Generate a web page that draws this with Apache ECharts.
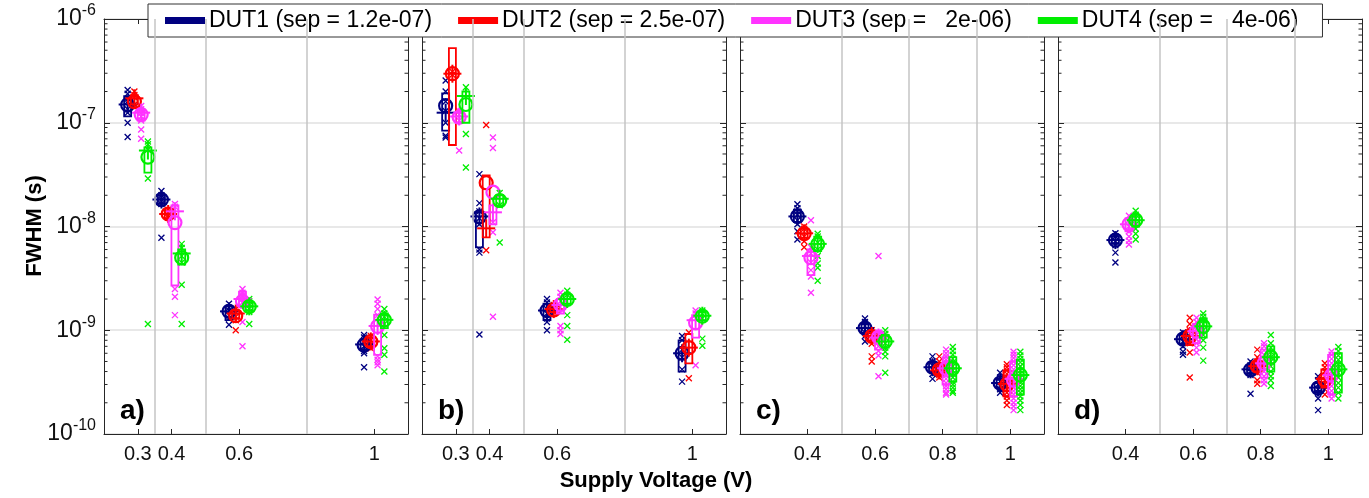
<!DOCTYPE html>
<html>
<head>
<meta charset="utf-8">
<script src="https://cdn.jsdelivr.net/npm/echarts@6/dist/echarts.min.js"></script>
<style>
html,body{margin:0;padding:0;background:#fff;}
#chart{width:1369px;height:498px;}
</style>
</head>
<body>
<div id="chart"></div>
<script>
// ---------------- DATA ----------------
const dutNames = ['DUT1 (sep = 1.2e-07)', 'DUT2 (sep = 2.5e-07)', 'DUT3 (sep =   2e-06)', 'DUT4 (sep =   4e-06)'];
const panelLabels = ['a)', 'b)', 'c)', 'd)'];
const minorTickValues = [2e-10,3e-10,4e-10,5e-10,6e-10,7e-10,8e-10,9e-10,
  2e-9,3e-9,4e-9,5e-9,6e-9,7e-9,8e-9,9e-9,
  2e-8,3e-8,4e-8,5e-8,6e-8,7e-8,8e-8,9e-8,
  2e-7,3e-7,4e-7,5e-7,6e-7,7e-7,8e-7,9e-7];
const xTicksAB = [0.3, 0.4, 0.6, 1];
const xTicksCD = [0.4, 0.6, 0.8, 1];
const separatorsAB = [0.35, 0.5, 0.8];
const separatorsCD = [0.5, 0.7, 0.9];

// Panel a)
const panelA_voltages = [0.3, 0.4, 0.6, 1.0];
const panelA_mean = [
  [1.49e-7, 1.82e-8, 1.52e-9, 7.2e-10],
  [1.6e-7, 1.32e-8, 1.38e-9, 7.76e-10],
  [1.2e-7, 1.09e-8, 1.9e-9, 1.09e-9],
  [4.67e-8, 5.0e-9, 1.69e-9, 1.26e-9]];
const panelA_center = [
  [1.5e-7, 1.82e-8, 1.52e-9, 7.3e-10],
  [1.72e-7, 1.32e-8, 1.45e-9, 7.8e-10],
  [1.25e-7, 1.4e-8, 2.0e-9, 1.1e-9],
  [5.4e-8, 5.5e-9, 1.7e-9, 1.26e-9]];
const panelA_boxLow = [
  [1.15e-7, 1.65e-8, 1.25e-9, 6.5e-10],
  [1.5e-7, 1.2e-8, 1.3e-9, 7.0e-10],
  [1.05e-7, 2.7e-9, 1.7e-9, 5.8e-10],
  [3.3e-8, 4.3e-9, 1.55e-9, 1.05e-9]];
const panelA_boxHigh = [
  [1.8e-7, 2.0e-8, 1.7e-9, 8.2e-10],
  [1.85e-7, 1.42e-8, 1.55e-9, 8.5e-10],
  [1.35e-7, 1.6e-8, 2.35e-9, 1.41e-9],
  [5.8e-8, 6.0e-9, 1.85e-9, 1.45e-9]];
const panelA_points = [
  [[2.07e-7,1.9e-7,1.7e-7,1.6e-7,1.35e-7,1.25e-7,1.0e-7,7.3e-8],[2.2e-8,2.0e-8,1.9e-8,1.75e-8,1.65e-8,7.8e-9],[1.8e-9,1.65e-9,1.55e-9,1.4e-9,1.3e-9,1.13e-9],[9e-10,8.5e-10,7.8e-10,7e-10,6.3e-10,6e-10,4.4e-10]],
  [[2.0e-7,1.85e-7,1.75e-7,1.5e-7,1.42e-7],[1.45e-8,1.38e-8,1.28e-8,1.22e-8],[1.6e-9,1.5e-9,1.35e-9,1.25e-9,1.0e-9],[8.8e-10,8e-10,7.2e-10,6.7e-10]],
  [[1.45e-7,1.35e-7,1.25e-7,1.15e-7,1.05e-7,8.6e-8,7e-8],[1.65e-8,1.55e-8,2.5e-9,2.1e-9,1.4e-9],[2.5e-9,2.3e-9,2.15e-9,2.0e-9,1.85e-9,1.2e-9,7e-10],[1.98e-9,1.8e-9,1.6e-9,1.4e-9,5.6e-10,5.2e-10,4.9e-10,4.6e-10]],
  [[6.6e-8,6.2e-8,5.5e-8,2.9e-8,1.15e-9],[6.8e-9,6.2e-9,5.2e-9,4.5e-9,2.75e-9,1.15e-9],[2.0e-9,1.9e-9,1.8e-9,1.6e-9,1.5e-9,1.15e-9],[1.6e-9,1.45e-9,1.35e-9,1.15e-9,9e-10,6.7e-10,5.8e-10,4e-10]]];

// Panel b)
const panelB_voltages = [0.3, 0.4, 0.6, 1.0];
const panelB_mean = [
  [1.46e-7, 1.24e-8, 1.55e-9, 6.0e-10],
  [2.97e-7, 2.64e-8, 1.57e-9, 6.8e-10],
  [1.13e-7, 2.14e-8, 1.77e-9, 1.18e-9],
  [1.5e-7, 1.78e-8, 1.98e-9, 1.37e-9]];
const panelB_center = [
  [1.25e-7, 1.25e-8, 1.55e-9, 6.0e-10],
  [2.97e-7, 9.6e-9, 1.6e-9, 6.8e-10],
  [1.15e-7, 1.37e-8, 1.75e-9, 1.25e-9],
  [1.81e-7, 1.85e-8, 2.0e-9, 1.38e-9]];
const panelB_boxLow = [
  [8.4e-8, 6.3e-9, 1.25e-9, 4.0e-10],
  [6.1e-8, 7.85e-9, 1.5e-9, 4.8e-10],
  [1.0e-7, 1.05e-8, 1.45e-9, 8.5e-10],
  [1.0e-7, 1.6e-8, 1.8e-9, 1.25e-9]];
const panelB_boxHigh = [
  [1.92e-7, 1.37e-8, 1.8e-9, 8.0e-10],
  [5.25e-7, 3.1e-8, 1.7e-9, 9.2e-10],
  [1.25e-7, 1.6e-8, 2.0e-9, 1.4e-9],
  [2.0e-7, 2.0e-8, 2.2e-9, 1.5e-9]];
const panelB_points = [
  [[2.55e-7,2.0e-7,1.6e-7,1.3e-7,1.0e-7,7.5e-8,7.2e-8],[3.2e-8,1.68e-8,1.4e-8,1.2e-8,1.05e-8,6e-9,5.6e-9,9.1e-10],[2.0e-9,1.85e-9,1.6e-9,1.45e-9,1.3e-9,1.2e-9,1.0e-9],[8.8e-10,8e-10,6.5e-10,5.5e-10,4.2e-10,3.2e-10]],
  [[3.1e-7,2.9e-7],[9.5e-8,5.9e-9],[1.75e-9,1.6e-9,1.5e-9],[9.5e-10,3.45e-10]],
  [[1.3e-7,1.2e-7,1.05e-7,5.4e-8],[7.2e-8,5.7e-8,1.1e-8,8.8e-9,1.35e-9],[2.3e-9,2.1e-9,1.9e-9,1.1e-9,1.0e-9,9.2e-10],[1.55e-9,1.45e-9,4.6e-10]],
  [[2.2e-7,7.8e-8,3.7e-8],[2.1e-8,1.6e-8,7e-9],[2.4e-9,2.2e-9,1.4e-9,1.1e-9,8.1e-10],[1.55e-9,1.45e-9,1.3e-9,8.3e-10,7.1e-10]]];

// Panel c)
const panelC_voltages = [0.4, 0.6, 0.8, 1.0];
const panelC_mean = [
  [1.25e-8, 1.05e-9, 4.4e-10, 3.1e-10],
  [8.55e-9, 8.75e-10, 4.16e-10, 3.0e-10],
  [5.0e-9, 8.6e-10, 4.3e-10, 3.3e-10],
  [6.74e-9, 7.8e-10, 4.3e-10, 3.7e-10]];
const panelC_center = [
  [1.25e-8, 1.05e-9, 4.4e-10, 3.1e-10],
  [8.6e-9, 8.8e-10, 4.1e-10, 3.05e-10],
  [5.2e-9, 8.5e-10, 4.3e-10, 3.4e-10],
  [6.8e-9, 7.8e-10, 4.3e-10, 3.7e-10]];
const panelC_boxLow = [
  [1.1e-8, 9.5e-10, 4.0e-10, 2.8e-10],
  [7.8e-9, 8.0e-10, 3.8e-10, 2.3e-10],
  [3.4e-9, 6.5e-10, 3.0e-10, 2.3e-10],
  [5.8e-9, 6.8e-10, 3.2e-10, 2.4e-10]];
const panelC_boxHigh = [
  [1.45e-8, 1.15e-9, 4.9e-10, 3.4e-10],
  [9.5e-9, 9.5e-10, 4.5e-10, 4.1e-10],
  [6.0e-9, 9.5e-10, 5.5e-10, 5.0e-10],
  [8.0e-9, 9.0e-10, 5.5e-10, 5.2e-10]];
const panelC_points = [
  [[1.64e-8,1.5e-8,1.4e-8,1.3e-8,1.15e-8,1.05e-8,9e-9,7.5e-9],[1.3e-9,1.2e-9,1.1e-9,9.5e-10,8.8e-10,7.8e-10],[5.6e-10,5e-10,4.6e-10,4.2e-10,3.8e-10,3.4e-10],[3.9e-10,3.5e-10,3.2e-10,2.9e-10,2.7e-10,2.5e-10]],
  [[1.0e-8,9.5e-9,8e-9,7.2e-9,6.3e-9],[1.0e-9,9e-10,8.2e-10,7.4e-10,5.6e-10,5e-10],[5.6e-10,5e-10,4.6e-10,4.3e-10,3.9e-10,3.7e-10,3.5e-10],[4.7e-10,4.4e-10,4.1e-10,3.8e-10,3.5e-10,3.3e-10,3.1e-10,2.9e-10,2.7e-10,2.5e-10,2.3e-10,2.1e-10,1.9e-10]],
  [[1.15e-8,6.3e-9,5.5e-9,4.5e-9,3.8e-9,3.3e-9,2.3e-9],[5.2e-9,9.5e-10,8.8e-10,7.8e-10,7e-10,6.3e-10,5.7e-10,3.6e-10],[6.5e-10,6e-10,5.6e-10,5.2e-10,4.9e-10,4.6e-10,4.3e-10,4e-10,3.7e-10,3.4e-10,3.1e-10,2.9e-10,2.7e-10,2.5e-10,2.4e-10],[6.2e-10,5.8e-10,5.4e-10,5e-10,4.6e-10,4.2e-10,3.9e-10,3.6e-10,3.3e-10,3.0e-10,2.8e-10,2.6e-10,2.4e-10,2.2e-10,2.0e-10,1.85e-10,1.7e-10]],
  [[8.5e-9,8e-9,7e-9,6e-9,5.2e-9,4.4e-9,4e-9,3e-9],[1.0e-9,9.2e-10,8.5e-10,7.5e-10,6.8e-10,6.2e-10,5.6e-10,3.9e-10],[6.9e-10,6.3e-10,5.8e-10,5.3e-10,4.9e-10,4.5e-10,4.1e-10,3.8e-10,3.5e-10,3.2e-10,3.0e-10,2.8e-10,2.6e-10,2.5e-10],[6.2e-10,5.7e-10,5.3e-10,4.9e-10,4.5e-10,4.1e-10,3.8e-10,3.5e-10,3.2e-10,2.9e-10,2.7e-10,2.5e-10,2.3e-10,2.1e-10,1.9e-10,1.7e-10]]];

// Panel d)
const panelD_voltages = [0.4, 0.6, 0.8, 1.0];
const panelD_mean = [
  [7.4e-9, 8.2e-10, 4.16e-10, 2.77e-10],
  [null, 8.75e-10, 4.5e-10, 3.33e-10],
  [1.05e-8, 9.8e-10, 4.8e-10, 3.7e-10],
  [1.15e-8, 1.09e-9, 5.5e-10, 4.2e-10]];
const panelD_center = [
  [7.4e-9, 8.2e-10, 4.2e-10, 2.8e-10],
  [null, 8.8e-10, 4.5e-10, 3.4e-10],
  [1.05e-8, 9.8e-10, 4.8e-10, 3.7e-10],
  [1.15e-8, 1.09e-9, 5.5e-10, 4.2e-10]];
const panelD_boxLow = [
  [6.8e-9, 7.4e-10, 3.8e-10, 2.5e-10],
  [null, 7.2e-10, 4.0e-10, 2.8e-10],
  [9.0e-9, 7.5e-10, 3.5e-10, 2.4e-10],
  [1.0e-8, 8.5e-10, 4.0e-10, 2.5e-10]];
const panelD_boxHigh = [
  [8.0e-9, 9.0e-10, 4.6e-10, 3.1e-10],
  [null, 1.0e-9, 5.0e-10, 4.2e-10],
  [1.2e-8, 1.15e-9, 6.5e-10, 5.8e-10],
  [1.3e-8, 1.3e-9, 7.0e-10, 6.0e-10]];
const panelD_points = [
  [[8.6e-9,8e-9,7.2e-9,6.6e-9,5.6e-9,4.5e-9],[9.5e-10,8.8e-10,7.8e-10,7e-10,6.2e-10,5.8e-10],[5e-10,4.6e-10,4.3e-10,4e-10,3.7e-10,2.44e-10],[3.6e-10,3.3e-10,3e-10,2.7e-10,2.5e-10,2.2e-10,1.7e-10]],
  [[],[1.32e-9,1.15e-9,1.0e-9,8.5e-10,7.5e-10,6.1e-10,3.5e-10],[6.5e-10,5.5e-10,5e-10,4.6e-10,4.2e-10,3.9e-10,3.3e-10,3.05e-10],[4.8e-10,4.4e-10,4e-10,3.6e-10,3.3e-10,3e-10,2.7e-10,2.4e-10]],
  [[1.27e-8,1.15e-8,1e-8,9e-9,8e-9,7.3e-9,6.7e-9],[1.32e-9,1.2e-9,1.1e-9,1e-9,9e-10,8.2e-10,7.5e-10,6.8e-10,6.1e-10],[7.5e-10,7e-10,6.4e-10,5.8e-10,5.3e-10,4.8e-10,4.4e-10,4e-10,3.6e-10,3.3e-10,3.05e-10],[6.25e-10,5.8e-10,5.3e-10,4.8e-10,4.4e-10,4e-10,3.6e-10,3.2e-10,2.9e-10,2.6e-10,2.4e-10,2.2e-10]],
  [[1.42e-8,1.3e-8,1.2e-8,1.05e-8,9.5e-9,8.5e-9,7.5e-9],[1.45e-9,1.35e-9,1.25e-9,1.15e-9,1.0e-9,9e-10,8e-10,6.8e-10,5.1e-10],[9e-10,7.5e-10,6.8e-10,6.2e-10,5.5e-10,5e-10,4.5e-10,4e-10,3.6e-10,3.3e-10,2.9e-10],[6.9e-10,6.3e-10,5.7e-10,5.2e-10,4.7e-10,4.3e-10,3.9e-10,3.5e-10,3.1e-10,2.8e-10,2.5e-10,2.2e-10]]];

// ---------------- STYLE / LAYOUT ----------------
const COLORS = ['#000080', '#ff0000', '#ff33ff', '#00ee00'];
const DUT_OFFSET = [-0.03, -0.01, 0.01, 0.03];
const FONT = '"Liberation Sans", Arial, Helvetica, sans-serif';
const AXIS_COLOR = '#262626';
const GRID_LEFTS = [104, 422, 740, 1058];
const GRID_TOP = 19, GRID_W = 304, GRID_H = 415;

const panels = [
  {volts: panelA_voltages, mean: panelA_mean, center: panelA_center, lo: panelA_boxLow, hi: panelA_boxHigh, pts: panelA_points, ticks: xTicksAB, seps: separatorsAB},
  {volts: panelB_voltages, mean: panelB_mean, center: panelB_center, lo: panelB_boxLow, hi: panelB_boxHigh, pts: panelB_points, ticks: xTicksAB, seps: separatorsAB},
  {volts: panelC_voltages, mean: panelC_mean, center: panelC_center, lo: panelC_boxLow, hi: panelC_boxHigh, pts: panelC_points, ticks: xTicksCD, seps: separatorsCD},
  {volts: panelD_voltages, mean: panelD_mean, center: panelD_center, lo: panelD_boxLow, hi: panelD_boxHigh, pts: panelD_points, ticks: xTicksCD, seps: separatorsCD}
];

const grids = [], xAxes = [], yAxes = [], series = [];

panels.forEach((p, gi) => {
  grids.push({left: GRID_LEFTS[gi], top: GRID_TOP, width: GRID_W, height: GRID_H, containLabel: false});
  xAxes.push({
    type: 'value', gridIndex: gi, min: 0.2, max: 1.1, position: 'bottom',
    axisLine: {show: true, onZero: false, lineStyle: {color: AXIS_COLOR, width: 1}},
    axisTick: {show: true, inside: true, length: 5, customValues: p.ticks, lineStyle: {color: AXIS_COLOR}},
    axisLabel: {show: true, customValues: p.ticks, fontSize: 20, color: '#111', fontFamily: FONT, margin: 10,
      formatter: v => String(v)},
    splitLine: {show: false}
  });
  xAxes.push({
    type: 'value', gridIndex: gi, min: 0.2, max: 1.1, position: 'top',
    axisLine: {show: true, onZero: false, lineStyle: {color: AXIS_COLOR, width: 1}},
    axisTick: {show: true, inside: true, length: 5, customValues: p.ticks, lineStyle: {color: AXIS_COLOR}},
    axisLabel: {show: false, customValues: p.ticks},
    splitLine: {show: false}
  });
  yAxes.push({
    type: 'log', logBase: 10, gridIndex: gi, min: 1e-10, max: 1e-6, splitNumber: 4, position: 'left',
    axisLine: {show: true, onZero: false, lineStyle: {color: AXIS_COLOR, width: 1}},
    axisTick: {show: true, inside: true, length: 6, lineStyle: {color: AXIS_COLOR}},
    axisLabel: {show: gi === 0, margin: 8, fontFamily: FONT,
      formatter: v => '{b|10}{s|' + Math.round(Math.log10(v)) + '}',
      rich: {
        b: {fontSize: 23, color: '#111', fontFamily: FONT, lineHeight: 32},
        s: {fontSize: 16, color: '#111', fontFamily: FONT, verticalAlign: 'top', lineHeight: 17}
      }},
    splitLine: {show: true, lineStyle: {color: '#e8e8e8', width: 2}}
  });
  yAxes.push({
    type: 'log', logBase: 10, gridIndex: gi, min: 1e-10, max: 1e-6, splitNumber: 4, position: 'right',
    axisLine: {show: true, onZero: false, lineStyle: {color: AXIS_COLOR, width: 1}},
    axisTick: {show: true, inside: true, length: 6, lineStyle: {color: AXIS_COLOR}},
    axisLabel: {show: false},
    splitLine: {show: false}
  });

  const xi = gi * 2, yi = gi * 2;

  series.push({
    type: 'custom', xAxisIndex: xi, yAxisIndex: yi, silent: true, z: 1,
    data: minorTickValues.map(v => [0.65, v]),
    renderItem: (params, api) => {
      const cs = params.coordSys;
      const y = api.coord([api.value(0), api.value(1)])[1];
      return {type: 'group', children: [
        {type: 'line', shape: {x1: cs.x, y1: y, x2: cs.x + 3.5, y2: y}, style: {stroke: AXIS_COLOR, lineWidth: 1}},
        {type: 'line', shape: {x1: cs.x + cs.width - 3.5, y1: y, x2: cs.x + cs.width, y2: y}, style: {stroke: AXIS_COLOR, lineWidth: 1}}
      ]};
    },
    markLine: {
      silent: true, symbol: 'none', label: {show: false},
      lineStyle: {color: '#c4c4c4', type: 'solid', width: 1.5},
      data: p.seps.map(s => ({xAxis: s}))
    }
  });

  for (let d = 0; d < 4; d++) {
    const color = COLORS[d];
    const ptsData = [];
    const sumData = [];
    p.volts.forEach((v, vi) => {
      const x = v + DUT_OFFSET[d];
      (p.pts[d][vi] || []).forEach(y => ptsData.push([x, y]));
      if (p.mean[d][vi] != null) {
        sumData.push([x, p.lo[d][vi], p.hi[d][vi], p.mean[d][vi], p.center[d][vi]]);
      }
    });
    series.push({
      name: dutNames[d], type: 'scatter', xAxisIndex: xi, yAxisIndex: yi, z: 3,
      symbol: 'path://M0,0L10,10M10,0L0,10', symbolSize: 6,
      itemStyle: {color: 'none', borderColor: color, borderWidth: 1.3, opacity: 1},
      data: ptsData
    });
    series.push({
      name: dutNames[d], type: 'custom', xAxisIndex: xi, yAxisIndex: yi, z: 4,
      itemStyle: {color: color},
      data: sumData,
      renderItem: (params, api) => {
        const x = api.value(0);
        const pLo = api.coord([x, api.value(1)]);
        const pHi = api.coord([x, api.value(2)]);
        const pM = api.coord([x, api.value(3)]);
        const pC = api.coord([x, api.value(4)]);
        return {type: 'group', children: [
          {type: 'rect', shape: {x: pLo[0] - 3.5, y: pHi[1], width: 7, height: pLo[1] - pHi[1]},
            style: {fill: 'none', stroke: color, lineWidth: 1.8}},
          {type: 'line', shape: {x1: pC[0] - 9, y1: pC[1], x2: pC[0] + 9, y2: pC[1]},
            style: {stroke: color, lineWidth: 2}},
          {type: 'line', shape: {x1: pC[0], y1: pC[1] - 9, x2: pC[0], y2: pC[1] + 9},
            style: {stroke: color, lineWidth: 2}},
          {type: 'circle', shape: {cx: pM[0], cy: pM[1], r: 6.5},
            style: {fill: 'none', stroke: color, lineWidth: 2.2}}
        ]};
      }
    });
  }
});

const graphics = [
  {type: 'text', x: 35, y: 226, rotation: Math.PI / 2,
    style: {text: 'FWHM (s)', font: 'bold 22px ' + FONT, fill: '#000', align: 'center', verticalAlign: 'middle'}},
  {type: 'text', x: 656, y: 481,
    style: {text: 'Supply Voltage (V)', font: 'bold 22px ' + FONT, fill: '#000', align: 'center', verticalAlign: 'middle'}}
];
GRID_LEFTS.forEach((l, i) => {
  graphics.push({type: 'text', x: l + 16, y: 411, z: 10,
    style: {text: panelLabels[i], font: 'bold 28px ' + FONT, fill: '#000', align: 'left', verticalAlign: 'middle'}});
});

const option = {
  animation: false,
  backgroundColor: '#fff',
  grid: grids,
  xAxis: xAxes,
  yAxis: yAxes,
  legend: {
    left: 148, top: 4, orient: 'horizontal',
    icon: 'rect', itemWidth: 38, itemHeight: 5, itemGap: 26,
    padding: [5, 24, 5, 17],
    backgroundColor: '#fff', borderColor: '#333', borderWidth: 1,
    textStyle: {fontSize: 23, color: '#000', fontFamily: FONT},
    selectedMode: false,
    data: dutNames.map((n, i) => ({name: n, itemStyle: {color: COLORS[i]}}))
  },
  graphic: graphics,
  series: series
};

const chart = echarts.init(document.getElementById('chart'), null, {renderer: 'canvas'});
chart.setOption(option);
</script>
</body>
</html>
